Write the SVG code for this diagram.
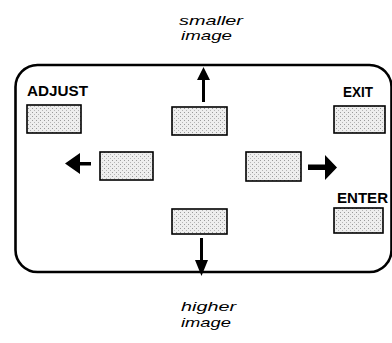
<svg xmlns="http://www.w3.org/2000/svg" width="392" height="343" viewBox="0 0 392 343">
<defs>
<pattern id="stip" width="4" height="4" patternUnits="userSpaceOnUse">
<rect width="4" height="4" fill="#eeeeee"/>
<rect x="0" y="0" width="1" height="1" fill="#9a9a9a"/>
<rect x="2" y="2" width="1" height="1" fill="#b5b5b5"/>
</pattern>
<style>
.frame{fill:none;stroke:#000;stroke-width:2.6}
.btn{fill:url(#stip);stroke:#000;stroke-width:1.6}
.lbl{font-family:"Liberation Sans",Arial,sans-serif;font-weight:bold;font-size:15px;fill:#000}
.cap{font-family:"Liberation Sans",Arial,sans-serif;font-style:italic;font-size:13px;fill:#000}
.arr{fill:#000;stroke:none}
</style>
</defs>
<rect width="392" height="343" fill="#fff"/>
<g id="frame">
<rect class="frame" x="15.5" y="65" width="376" height="207" rx="22" ry="22"/>
</g>
<g id="caption-top">
<text class="cap" x="179" y="25" textLength="64" lengthAdjust="spacingAndGlyphs">smaller</text>
<text class="cap" x="181" y="40" textLength="51" lengthAdjust="spacingAndGlyphs">image</text>
</g>
<g id="caption-bottom">
<text class="cap" x="181" y="311" textLength="55" lengthAdjust="spacingAndGlyphs">higher</text>
<text class="cap" x="181" y="327" textLength="50" lengthAdjust="spacingAndGlyphs">image</text>
</g>
<g id="adjust">
<text class="lbl" x="27" y="96" textLength="61" lengthAdjust="spacingAndGlyphs">ADJUST</text>
<rect class="btn" x="27" y="105" width="54" height="28"/>
</g>
<g id="exit">
<text class="lbl" x="343" y="97" textLength="30" lengthAdjust="spacingAndGlyphs">EXIT</text>
<rect class="btn" x="334" y="106" width="51" height="27"/>
</g>
<g id="enter">
<text class="lbl" x="337" y="203" textLength="51" lengthAdjust="spacingAndGlyphs">ENTER</text>
<rect class="btn" x="334" y="208" width="49" height="25"/>
</g>
<g id="up">
<rect class="btn" x="172" y="107" width="55" height="28"/>
</g>
<g id="left">
<rect class="btn" x="100" y="152" width="53" height="28"/>
</g>
<g id="right">
<rect class="btn" x="246" y="152" width="55" height="29"/>
</g>
<g id="down">
<rect class="btn" x="172" y="209" width="55" height="25"/>
</g>
<g id="connectors">
<path class="arr" d="M202 102 L202 80 L197 80 L203.5 67 L210 80 L205 80 L205 102 Z"/>
<path class="arr" d="M91 162 L80 162 L80 153 L65 163.5 L80 174 L80 165.5 L91 165.5 Z"/>
<path class="arr" d="M308 164.5 L325 164.5 L325 155 L337 167.5 L325 180 L325 170 L308 170 Z"/>
<path class="arr" d="M200 238 L200 260 L195 260 L201.5 276 L208 260 L203 260 L203 238 Z"/>
</g>
</svg>
